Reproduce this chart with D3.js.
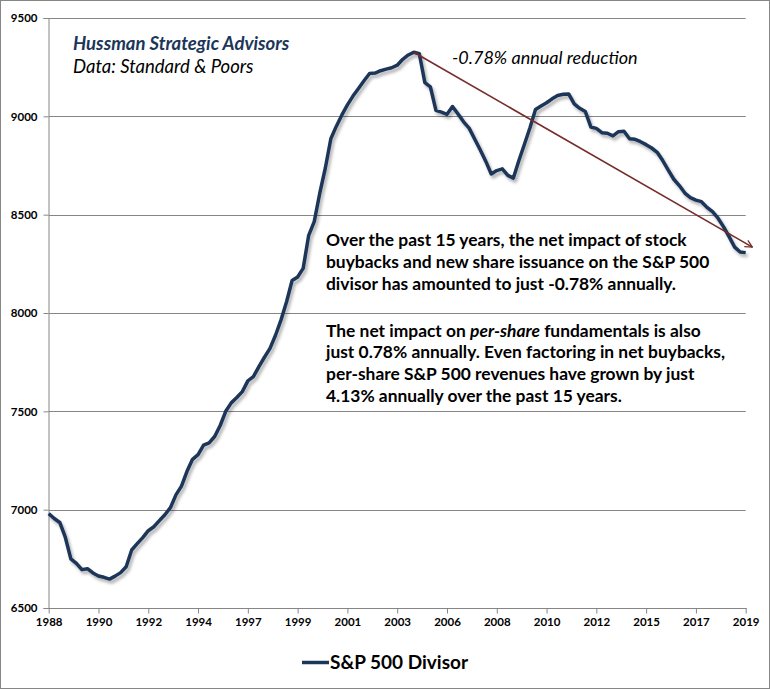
<!DOCTYPE html>
<html>
<head>
<meta charset="utf-8">
<script src="https://cdn.jsdelivr.net/npm/d3@7"></script>
<style>
  body { margin: 0; background: #fff; }
  svg { display: block; font-family: Lato, "Open Sans", sans-serif; }
</style>
</head>
<body>
<div id="chart"></div>
<script>
// quarterly S&P 500 divisor, 1988 Q1 .. 2019 Q3
var divisor = [
  6980, 6955, 6935, 6860, 6750, 6727, 6695, 6700, 6678, 6663,
  6656, 6647, 6662, 6680, 6710, 6795, 6827, 6858, 6893, 6913,
  6944, 6974, 7010, 7075, 7120, 7195, 7256, 7280, 7328, 7340,
  7372, 7428, 7500, 7543, 7570, 7600, 7655, 7676, 7727, 7775,
  7820, 7887, 7965, 8057, 8165, 8183, 8227, 8395, 8465, 8609,
  8736, 8886, 8950, 9007, 9058, 9103, 9142, 9181, 9218, 9220,
  9232, 9240, 9247, 9260, 9290, 9312, 9326, 9318, 9171, 9150,
  9030, 9021, 9010, 9050, 9012, 8972, 8940, 8885, 8830, 8772,
  8707, 8724, 8733, 8700, 8686, 8775, 8858, 8942, 9035, 9053,
  9069, 9089, 9106, 9112, 9114, 9063, 9041, 9025, 8946, 8939,
  8917, 8914, 8901, 8922, 8924, 8886, 8883, 8871, 8856, 8839,
  8817, 8775, 8727, 8680, 8648, 8610, 8587, 8574, 8566, 8537,
  8515, 8482, 8438, 8388, 8335, 8310, 8307
];

// one label every 9 quarters
var tickLabels = ["1988", "1990", "1992", "1994", "1997", "1999", "2001", "2003",
                  "2006", "2008", "2010", "2012", "2015", "2017", "2019"];
var tickStep = 9;

var yTicks = [6500, 7000, 7500, 8000, 8500, 9000, 9500];

// trend arrow: [quarter index, divisor value]
var trendStart = [66, 9326];
var trendEnd = [127.2, 8335];

var para1 = [
  "Over the past 15 years, the net impact of stock",
  "buybacks and new share issuance on the S&P 500",
  "divisor has amounted to just -0.78% annually."
];
var para2 = [
  [["The net impact on ", false], ["per-share", true], [" fundamentals is also", false]],
  [["just 0.78% annually. Even factoring in net buybacks,", false]],
  [["per-share S&P 500 revenues have grown by just", false]],
  [["4.13% annually over the past 15 years.", false]]
];

var width = 770, height = 689;

var svg = d3.select("#chart").append("svg")
  .attr("width", width)
  .attr("height", height);

var defs = svg.append("defs");
var shadow = defs.append("filter")
  .attr("id", "shadow")
  .attr("x", "-10%").attr("y", "-10%")
  .attr("width", "120%").attr("height", "120%");
shadow.append("feDropShadow")
  .attr("dx", 2).attr("dy", 3)
  .attr("stdDeviation", 1.6)
  .attr("flood-color", "#000")
  .attr("flood-opacity", 0.3);

defs.append("marker")
  .attr("id", "arrow")
  .attr("viewBox", "0 0 10 10")
  .attr("refX", 9).attr("refY", 5)
  .attr("markerWidth", 9).attr("markerHeight", 9)
  .attr("markerUnits", "userSpaceOnUse")
  .attr("orient", "auto")
  .append("path")
  .attr("d", "M1,1 L9,5 L1,9")
  .attr("fill", "none")
  .attr("stroke", "#772c2a")
  .attr("stroke-width", 1.4);

// outer border
svg.append("rect")
  .attr("x", 0.5).attr("y", 0.5)
  .attr("width", width - 1).attr("height", height - 1)
  .attr("fill", "none")
  .attr("stroke", "#868686");

var x = d3.scaleLinear()
  .domain([0, divisor.length - 1])
  .range([48.7, 745.7]);

var y = d3.scaleLinear()
  .domain([6500, 9500])
  .range([608, 18]);

// gridlines
svg.append("g").selectAll("line")
  .data(yTicks.slice(1))
  .enter()
  .append("line")
  .attr("x1", x(0)).attr("x2", x(divisor.length - 1))
  .attr("y1", d => Math.round(y(d)) + 0.5)
  .attr("y2", d => Math.round(y(d)) + 0.5)
  .attr("stroke", "#868686")
  .attr("stroke-width", 1);

// y axis
var yAxis = d3.axisLeft(y)
  .tickValues(yTicks)
  .tickSize(5)
  .tickPadding(6)
  .tickFormat(d3.format("d"));

var yG = svg.append("g")
  .attr("transform", "translate(48.5, 0)")
  .call(yAxis);

// x axis
var xAxis = d3.axisBottom(x)
  .tickValues(tickLabels.map((d, i) => i * tickStep))
  .tickSize(5)
  .tickPadding(4)
  .tickFormat((d, i) => tickLabels[i]);

var xG = svg.append("g")
  .attr("transform", "translate(0, 608.5)")
  .call(xAxis);

[yG, xG].forEach(function(g) {
  g.select(".domain").attr("stroke", "#868686");
  g.selectAll(".tick line").attr("stroke", "#868686");
  g.selectAll(".tick text")
    .attr("fill", "#000")
    .attr("font-family", "Lato, sans-serif")
    .attr("font-weight", "bold")
    .attr("font-size", "11.5px");
});
xG.select(".domain").attr("d", "M" + x(0) + ",0H" + (x(divisor.length - 1) + 1));

// divisor line
var line = d3.line()
  .x((d, i) => x(i))
  .y(d => y(d));

svg.append("path")
  .datum(divisor)
  .attr("d", line)
  .attr("fill", "none")
  .attr("stroke", "#1c3659")
  .attr("stroke-width", 3.5)
  .attr("stroke-linejoin", "round")
  .attr("filter", "url(#shadow)");

// trend arrow
svg.append("line")
  .attr("x1", x(trendStart[0])).attr("y1", y(trendStart[1]))
  .attr("x2", x(trendEnd[0])).attr("y2", y(trendEnd[1]))
  .attr("stroke", "#772c2a")
  .attr("stroke-width", 1.6)
  .attr("marker-end", "url(#arrow)");

svg.append("text")
  .attr("x", 452).attr("y", 64)
  .attr("font-style", "italic")
  .attr("font-size", "18px")
  .attr("fill", "#000")
  .text("-0.78% annual reduction");

// source block
svg.append("text")
  .attr("x", 73).attr("y", 49.5)
  .attr("font-style", "italic")
  .attr("font-weight", "bold")
  .attr("font-size", "18.5px")
  .attr("fill", "#1c3659")
  .text("Hussman Strategic Advisors");

svg.append("text")
  .attr("x", 73).attr("y", 73)
  .attr("font-style", "italic")
  .attr("font-size", "18.5px")
  .attr("fill", "#000")
  .text("Data: Standard & Poors");

// commentary
svg.append("g").selectAll("text")
  .data(para1)
  .enter()
  .append("text")
  .attr("x", 326)
  .attr("y", (d, i) => 246 + i * 22)
  .attr("font-weight", "bold")
  .attr("font-size", "17.4px")
  .attr("fill", "#000")
  .text(d => d);

var p2 = svg.append("g").selectAll("text")
  .data(para2)
  .enter()
  .append("text")
  .attr("x", 326)
  .attr("y", (d, i) => 336.5 + i * 21.7)
  .attr("font-weight", "bold")
  .attr("font-size", "17.4px")
  .attr("fill", "#000");

p2.selectAll("tspan")
  .data(d => d)
  .enter()
  .append("tspan")
  .attr("font-style", d => d[1] ? "italic" : "normal")
  .text(d => d[0]);

// legend
svg.append("line")
  .attr("x1", 302).attr("x2", 329)
  .attr("y1", 662.5).attr("y2", 662.5)
  .attr("stroke", "#1c3659")
  .attr("stroke-width", 3.5);

svg.append("text")
  .attr("x", 330).attr("y", 669)
  .attr("font-weight", "bold")
  .attr("font-size", "19px")
  .attr("fill", "#000")
  .text("S&P 500 Divisor");
</script>
</body>
</html>
